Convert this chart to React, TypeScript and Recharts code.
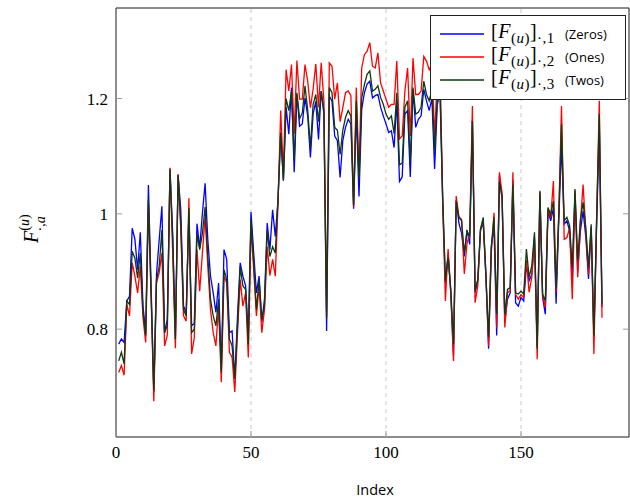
import { Line, LineChart, ReferenceArea, ReferenceLine, XAxis, YAxis } from "recharts";

if (typeof document !== "undefined") document.body.style.margin = "0";

// [F(u)]·,1 (Zeros)
const zeros = [
  0.774, 0.783, 0.777, 0.849, 0.857, 0.975, 0.956, 0.903, 0.968, 0.84,
  0.794, 1.05, 0.875, 0.691, 0.895, 0.955, 1.013, 0.794, 0.817, 1.075,
  0.966, 0.783, 1.067, 1.007, 0.84, 0.829, 1.001, 0.806, 0.81, 0.983,
  0.941, 1.001, 1.053, 0.955, 0.892, 0.863, 0.829, 0.88, 0.731, 0.938,
  0.921, 0.794, 0.797, 0.714, 0.823, 0.915, 0.892, 0.875, 0.789, 1.003,
  0.932, 0.863, 0.892, 0.812, 0.852, 0.984, 0.938, 1.007, 0.961, 1.024,
  1.139, 1.058, 1.185, 1.138, 1.219, 1.072, 1.207, 1.152, 1.156, 1.201,
  1.17, 1.098, 1.173, 1.195, 1.129, 1.213, 1.173, 0.797, 1.204, 1.196,
  1.135, 1.127, 1.063, 1.127, 1.15, 1.164, 1.156, 1.009, 1.179, 1.03,
  1.181, 1.21, 1.225, 1.23, 1.201, 1.205, 1.207, 1.185, 1.17, 1.156,
  1.141, 1.144, 1.115, 1.196, 1.056, 1.064, 1.173, 1.179, 1.064, 1.216,
  1.15, 1.164, 1.17, 1.216, 1.196, 1.179, 1.2, 1.078, 1.19, 1.21,
  1.02, 0.88, 0.93, 0.863, 0.754, 1.024, 0.984, 0.966, 0.926, 0.972,
  0.947, 1.162, 0.863, 0.886, 0.972, 0.984, 0.892, 0.766, 0.943, 0.978,
  0.789, 1.066, 1.024, 0.812, 0.852, 0.863, 1.058, 0.846, 0.84, 0.855,
  0.849, 0.91, 0.884, 0.895, 0.96, 0.77, 1.035, 0.855, 0.826, 1.005,
  0.988, 1.01, 0.844, 0.99, 1.12, 0.982, 0.988, 0.97, 0.887, 1.035,
  0.9, 0.97, 1.005, 0.96, 0.887, 0.975, 0.787, 0.98, 1.15, 0.838,
];

// [F(u)]·,2 (Ones)
const ones = [
  0.725, 0.737, 0.72, 0.843, 0.823, 0.915, 0.892, 0.863, 0.909, 0.82,
  0.777, 1.015, 0.857, 0.675, 0.88, 0.898, 0.932, 0.771, 0.789, 1.08,
  0.932, 0.767, 1.069, 0.972, 0.823, 0.814, 1.027, 0.757, 0.785, 0.938,
  0.866, 0.932, 0.995, 0.909, 0.834, 0.794, 0.771, 0.84, 0.708, 0.892,
  0.88, 0.76, 0.751, 0.691, 0.794, 0.886, 0.84, 0.863, 0.751, 0.978,
  0.903, 0.823, 0.875, 0.794, 0.834, 0.943, 0.893, 0.921, 0.892, 1.018,
  1.179, 1.07, 1.25, 1.213, 1.259, 1.139, 1.266, 1.199, 1.199, 1.259,
  1.23, 1.184, 1.216, 1.26, 1.185, 1.262, 1.196, 0.823, 1.262, 1.256,
  1.199, 1.227, 1.16, 1.184, 1.21, 1.213, 1.205, 1.012, 1.219, 1.07,
  1.253, 1.276, 1.282, 1.297, 1.256, 1.253, 1.279, 1.227, 1.213, 1.199,
  1.185, 1.19, 1.19, 1.265, 1.13, 1.135, 1.213, 1.253, 1.135, 1.27,
  1.207, 1.207, 1.213, 1.273, 1.265, 1.25, 1.26, 1.133, 1.24, 1.26,
  1.02, 0.849, 0.939, 0.863, 0.745, 1.031, 0.995, 0.99, 0.896, 0.949,
  0.966, 1.187, 0.846, 0.875, 0.973, 0.99, 0.898, 0.771, 0.932, 1.002,
  0.803, 1.072, 1.035, 0.803, 0.863, 0.867, 1.072, 0.86, 0.852, 0.86,
  0.855, 0.92, 0.864, 0.89, 0.955, 0.748, 1.038, 0.858, 0.838, 1.009,
  0.993, 1.057, 0.864, 1.0, 1.187, 0.956, 0.959, 0.975, 0.852, 1.04,
  0.89, 0.985, 1.051, 0.97, 0.895, 0.978, 0.757, 0.99, 1.196, 0.82,
];

// [F(u)]·,3 (Twos)
const twos = [
  0.745, 0.76, 0.74, 0.849, 0.843, 0.935, 0.923, 0.889, 0.932, 0.83,
  0.789, 1.024, 0.863, 0.694, 0.885, 0.909, 0.972, 0.794, 0.806, 1.078,
  0.955, 0.783, 1.067, 0.984, 0.834, 0.823, 1.01, 0.794, 0.8, 0.964,
  0.938, 0.966, 1.012, 0.926, 0.852, 0.823, 0.806, 0.852, 0.725, 0.903,
  0.886, 0.783, 0.771, 0.714, 0.806, 0.909, 0.875, 0.869, 0.774, 0.99,
  0.915, 0.834, 0.886, 0.817, 0.84, 0.972, 0.926, 0.943, 0.932, 1.024,
  1.141, 1.058, 1.2, 1.179, 1.213, 1.093, 1.21, 1.165, 1.175, 1.222,
  1.18, 1.115, 1.19, 1.207, 1.16, 1.213, 1.179, 0.818, 1.219, 1.21,
  1.15, 1.145, 1.103, 1.145, 1.167, 1.179, 1.17, 1.015, 1.196, 1.06,
  1.201, 1.224, 1.242, 1.248, 1.213, 1.216, 1.222, 1.202, 1.19, 1.173,
  1.164, 1.17, 1.139, 1.21, 1.085, 1.088, 1.185, 1.196, 1.09, 1.219,
  1.173, 1.176, 1.185, 1.23, 1.207, 1.196, 1.215, 1.11, 1.2, 1.22,
  1.03, 0.884, 0.924, 0.869, 0.774, 1.022, 0.994, 0.988, 0.932, 0.97,
  0.961, 1.161, 0.867, 0.886, 0.973, 0.994, 0.892, 0.786, 0.943, 0.994,
  0.826, 1.056, 1.03, 0.826, 0.869, 0.872, 1.051, 0.863, 0.861, 0.866,
  0.861, 0.939, 0.89, 0.91, 0.968, 0.766, 1.04, 0.861, 0.849, 1.011,
  0.999, 1.022, 0.87, 0.999, 1.155, 0.988, 0.994, 0.98, 0.907, 1.043,
  0.919, 0.99, 1.02, 0.976, 0.907, 0.982, 0.789, 0.99, 1.173, 0.844,
];

const xTicks = [0, 50, 100, 150];
const yTicks = [0.8, 1, 1.2];
const gridX = [50, 100, 150];

const X_MIN = 0;
const X_MAX = 190;
const Y_MIN = 0.613;
const Y_MAX = 1.357;

const series = [
  { key: "zeros", color: "#0000ff", idx: "1", name: "Zeros" },
  { key: "ones", color: "#ff0000", idx: "2", name: "Ones" },
  { key: "twos", color: "#0f3a12", idx: "3", name: "Twos" },
];

const data = zeros.map((v, i) => ({ idx: i + 1, zeros: v, ones: ones[i], twos: twos[i] }));

const serif = "'Liberation Serif', 'DejaVu Serif', serif";
const sans = "'Open Sans', 'DejaVu Sans', sans-serif";
const tickGray = "#9a9a9a";

function YTitle() {
  return (
    <text transform="translate(38,243) rotate(-90)" fontFamily={serif} fill="#000">
      <tspan fontSize={20} fontStyle="italic">F</tspan>
      <tspan fontSize={14} dy={-9}>(</tspan>
      <tspan fontSize={14} fontStyle="italic">u</tspan>
      <tspan fontSize={14}>)</tspan>
      <tspan fontSize={14} dx={-17} dy={16}>·,</tspan>
      <tspan fontSize={14} fontStyle="italic">a</tspan>
    </text>
  );
}

function XTitle() {
  return (
    <text x={375} y={495} textAnchor="middle" fontFamily={sans} fontSize={14.5} fill="#000">
      Index
    </text>
  );
}

function LegendBox() {
  return (
    <div
      style={{
        position: "absolute",
        left: 430,
        top: 15,
        width: 196,
        height: 85,
        border: "1px solid #222",
        background: "#fff",
        boxSizing: "border-box",
        padding: "6px 0 0 9px",
      }}
    >
      {series.map((s) => (
        <div key={s.key} style={{ display: "flex", alignItems: "center", height: 23 }}>
          <svg width={44} height={4} style={{ marginRight: 7, display: "block" }}>
            <line x1={0} y1={2} x2={44} y2={2} stroke={s.color} strokeWidth={1.4} />
          </svg>
          <span
            style={{
              fontFamily: serif,
              fontSize: 20,
              whiteSpace: "nowrap",
              position: "relative",
              top: -2,
              display: "inline-block",
              width: 74,
              letterSpacing: 0.5,
            }}
          >
            [<i>F</i>
            <span style={{ fontSize: 15, position: "relative", top: 5 }}>
              (<i>u</i>)
            </span>
            ]
            <span style={{ fontSize: 15, position: "relative", top: 5 }}>·,{s.idx}</span>
          </span>
          <span style={{ fontFamily: sans, fontSize: 13, whiteSpace: "nowrap" }}>({s.name})</span>
        </div>
      ))}
    </div>
  );
}

export default function App() {
  return (
    <div style={{ position: "relative", width: 630, height: 499, background: "#fff" }}>
      <LineChart width={630} height={499} data={data} margin={{ top: 8, right: 1, left: 0, bottom: 0 }}>
        {gridX.map((g) => (
          <ReferenceLine key={`g${g}`} x={g} stroke="#c8c8c8" strokeDasharray="4 4" strokeWidth={1} />
        ))}
        {yTicks.map((t) => (
          <ReferenceLine
            key={`yl${t}`}
            segment={[{ x: X_MIN, y: t }, { x: X_MIN + 2.2, y: t }]}
            stroke={tickGray}
          />
        ))}
        {yTicks.map((t) => (
          <ReferenceLine
            key={`yr${t}`}
            segment={[{ x: X_MAX - 2.2, y: t }, { x: X_MAX, y: t }]}
            stroke={tickGray}
          />
        ))}
        {xTicks.map((t) => (
          <ReferenceLine
            key={`xb${t}`}
            segment={[{ x: t, y: Y_MIN }, { x: t, y: Y_MIN + 0.0105 }]}
            stroke={tickGray}
          />
        ))}
        <XAxis
          type="number"
          dataKey="idx"
          domain={[X_MIN, X_MAX]}
          ticks={xTicks}
          allowDataOverflow
          height={62}
          axisLine={false}
          tickLine={false}
          tickSize={0}
          tickMargin={9}
          tick={{ fill: "#000", fontSize: 17, fontFamily: serif }}
          label={<XTitle />}
        />
        <YAxis
          type="number"
          domain={[Y_MIN, Y_MAX]}
          ticks={yTicks}
          allowDataOverflow
          width={116}
          axisLine={false}
          tickLine={false}
          tickSize={0}
          tickMargin={8}
          tickFormatter={(v: number) => String(v)}
          tick={{ fill: "#000", fontSize: 17, fontFamily: serif }}
          label={<YTitle />}
        />
        {series.map((s) => (
          <Line
            key={s.key}
            type="linear"
            dataKey={s.key}
            stroke={s.color}
            strokeWidth={1.3}
            dot={false}
            activeDot={false}
            isAnimationActive={false}
          />
        ))}
        <ReferenceArea
          x1={X_MIN}
          x2={X_MAX}
          y1={Y_MIN}
          y2={Y_MAX}
          fill="none"
          stroke="#1a1a1a"
          strokeWidth={1}
          fillOpacity={0}
        />
      </LineChart>
      <LegendBox />
    </div>
  );
}
